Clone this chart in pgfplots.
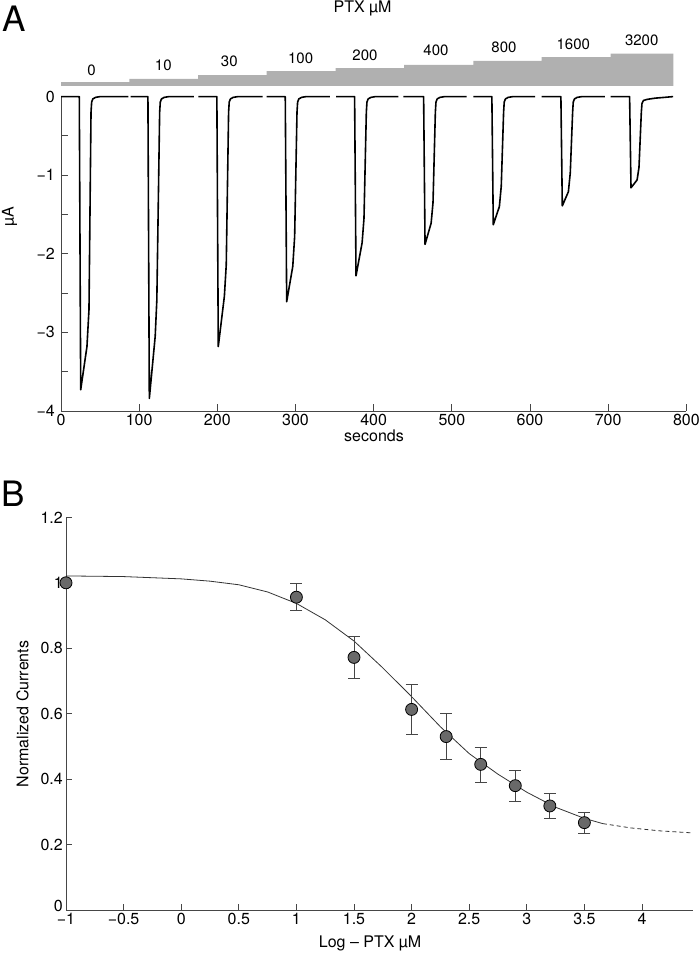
\documentclass[border=0pt]{standalone}
\usepackage{fontspec}
\setmainfont{TeX Gyre Heros}
\usepackage{pgfplots}
\pgfplotsset{compat=1.18}
\definecolor{barfill}{RGB}{176,176,176}
\definecolor{mk}{RGB}{105,105,105}
\definecolor{axc}{RGB}{70,70,70}
\newcommand{\tfont}{\fontsize{16}{18}\selectfont}
\newcommand{\lfont}{\fontsize{16}{18}\selectfont}
\begin{document}
\begin{tikzpicture}
\path[use as bounding box] (0pt,0pt) rectangle (700pt,954pt);
% ---------------- Panel A ----------------
\begin{axis}[at={(61pt,543pt)}, anchor=south west,
  x=0.7817pt, y=78.6pt,
  xmin=0, xmax=800, ymin=-4, ymax=0,
  enlargelimits=false, clip=false,
  axis lines=left, axis line style={-, axc, line width=0.9pt},
  tick align=inside, major tick length=6.5pt,
  tick style={axc, line width=0.9pt},
  xtick={0,100,200,300,400,500,600,700,800},
  xticklabels={0,100,200,300,400,500,600,700,800},
  ytick={-4,-3.5,-3,-2.5,-2,-1.5,-1,-0.5,0},
  yticklabels={−4,,−3,,−2,,−1,,0},
  ticklabel style={font=\tfont},
  xticklabel style={anchor=north, inner sep=0pt, yshift=-2.5pt},
  yticklabel style={anchor=east, inner sep=0pt, xshift=-6pt},
]
% concentration staircase
\addplot[fill=barfill, draw=none] coordinates {
 (0,0.136) (0,0.183) (87.4,0.183) (87.4,0.225) (175.3,0.225) (175.3,0.272)
 (263.1,0.272) (263.1,0.323) (351.4,0.323) (351.4,0.361) (438.8,0.361) (438.8,0.403)
 (527.4,0.403) (527.4,0.454) (614.9,0.454) (614.9,0.501) (703.2,0.501) (703.2,0.547)
 (783.3,0.547) (783.3,0.136)};
\node[font=\fontsize{15}{17}\selectfont, inner sep=0pt] at (axis cs:39.2,0.34) {0};
\node[font=\fontsize{15}{17}\selectfont, inner sep=0pt] at (axis cs:130.9,0.403) {10};
\node[font=\fontsize{15}{17}\selectfont, inner sep=0pt] at (axis cs:215.3,0.445) {30};
\node[font=\fontsize{15}{17}\selectfont, inner sep=0pt] at (axis cs:306.6,0.489) {100};
\node[font=\fontsize{15}{17}\selectfont, inner sep=0pt] at (axis cs:388.9,0.531) {200};
\node[font=\fontsize{15}{17}\selectfont, inner sep=0pt] at (axis cs:479.7,0.585) {400};
\node[font=\fontsize{15}{17}\selectfont, inner sep=0pt] at (axis cs:566.7,0.623) {800};
\node[font=\fontsize{15}{17}\selectfont, inner sep=0pt] at (axis cs:655.4,0.670) {1600};
\node[font=\fontsize{15}{17}\selectfont, inner sep=0pt] at (axis cs:742.9,0.712) {3200};
% current trace
\pgfplotsset{trace/.style={black, line width=1.6pt, no markers, line join=round}}
\addplot[trace] coordinates {(0,0) (23.4,0) (25.2,-3.73) (33.2,-3.18) (35.8,-2.71) (38.4,-0.2) (39.2,-0.07) (40.7,-0.03) (44.2,-0.01) (50.2,0) (86.1,0)};
\addplot[trace] coordinates {(89.2,0) (111.2,0) (113,-3.84) (120.5,-3.05) (122.6,-2.59) (126.2,-0.2) (127.0,-0.07) (128.5,-0.03) (132,-0.01) (138,0) (170.1,0)};
\addplot[trace] coordinates {(175.6,0) (199.4,0) (201.2,-3.18) (209,-2.54) (211.4,-2.14) (214.4,-0.2) (215.2,-0.07) (216.7,-0.03) (220.2,-0.01) (226.2,0) (258,0)};
\addplot[trace] coordinates {(263.2,0) (286.9,0) (288.7,-2.61) (296.5,-2.16) (298.9,-1.78) (301.9,-0.2) (302.7,-0.07) (304.2,-0.03) (307.7,-0.01) (313.7,0) (344.1,0)};
\addplot[trace] coordinates {(351.8,0) (375.6,0) (377.4,-2.28) (385.2,-1.86) (387.6,-1.55) (390.6,-0.2) (391.4,-0.07) (392.9,-0.03) (396.4,-0.01) (402.4,0) (431.5,0)};
\addplot[trace] coordinates {(437.9,0) (463.9,0) (465.7,-1.88) (473.5,-1.61) (475.9,-1.35) (478.9,-0.2) (479.7,-0.07) (481.2,-0.03) (484.7,-0.01) (490.7,0) (519,0)};
\addplot[trace] coordinates {(527.4,0) (551.2,0) (553,-1.63) (560.8,-1.40) (563.2,-1.14) (566.2,-0.2) (567,-0.07) (568.5,-0.03) (572,-0.01) (578,0) (606.4,0)};
\addplot[trace] coordinates {(615,0) (639.5,0) (641.3,-1.39) (649.1,-1.21) (651.5,-0.97) (654.5,-0.2) (655.3,-0.07) (656.8,-0.03) (660.3,-0.01) (666.3,0) (695.9,0)};
\addplot[trace] coordinates {(703.2,0) (727.4,0) (729.2,-1.16) (737,-1.06) (739.4,-0.90) (742.4,-0.2) (743.2,-0.09) (745,-0.05) (750,-0.035) (760,-0.02) (772,-0.01) (783,0)};
\end{axis}
% ---------------- Panel B ----------------
\begin{axis}[at={(66pt,44pt)}, anchor=south west,
  x=115.2pt, y=327.2pt,
  xmin=-1, xmax=4.44, ymin=0, ymax=1.2,
  enlargelimits=false, clip=false,
  axis lines=left, axis line style={-, axc, line width=0.9pt},
  tick align=inside, major tick length=6pt,
  tick style={axc, line width=0.9pt},
  xtick={-1,-0.5,0,0.5,1,1.5,2,2.5,3,3.5,4},
  xticklabels={−1,−0.5,0,0.5,1,1.5,2,2.5,3,3.5,4},
  ytick={0,0.2,0.4,0.6,0.8,1,1.2},
  yticklabels={\raisebox{-1.2pt}[0pt][0pt]{0},0.2,0.4,0.6,0.8,1,1.2},
  ticklabel style={font=\tfont},
  xticklabel style={anchor=north, inner sep=0pt, yshift=-2.5pt},
  yticklabel style={anchor=east, inner sep=0pt, xshift=-3pt},
]
\addplot[no markers, line width=0.8pt, black!80] coordinates {
 (-1,1.021) (-0.5,1.019) (0,1.012) (0.25,1.005) (0.5,0.994) (0.75,0.972) (1,0.937)
 (1.25,0.887) (1.5,0.822) (1.75,0.740) (2,0.652) (2.25,0.560) (2.5,0.478) (2.75,0.415)
 (3,0.360) (3.25,0.314) (3.5,0.280) (3.66,0.264)};
\addplot[no markers, line width=0.8pt, black!80, dash pattern=on 4pt off 3pt] coordinates {
 (3.66,0.264) (3.9,0.251) (4.15,0.242) (4.42,0.236)};
\addplot[only marks, mark=*, mark size=6pt, mark options={fill=mk, draw=black, line width=0.8pt}] coordinates {(-1,1.0)};
\addplot[only marks, mark=*, mark size=6pt, mark options={fill=mk, draw=black, line width=0.8pt},
  error bars/.cd, y dir=both, y explicit,
  error bar style={line width=1pt, axc},
  error mark options={rotate=90, line width=1pt, axc, mark size=6pt}]
 coordinates {
 (1,0.956) += (0,0.041) -= (0,0.041)
 (1.5,0.772) += (0,0.063) -= (0,0.065)
 (2,0.613) += (0,0.075) -= (0,0.077)
 (2.3,0.530) += (0,0.070) -= (0,0.071)
 (2.6,0.445) += (0,0.052) -= (0,0.055)
 (2.9,0.380) += (0,0.045) -= (0,0.047)
 (3.2,0.318) += (0,0.039) -= (0,0.039)
 (3.5,0.267) += (0,0.030) -= (0,0.033)};
\end{axis}
% ---------------- Text ----------------
\node[font=\fontsize{35}{40}\selectfont, anchor=base west, inner sep=0pt] at (2pt,922.3pt) {A};
\node[font=\fontsize{35}{40}\selectfont, anchor=base west, inner sep=0pt] at (1pt,447.3pt) {B};
\node[font=\tfont, anchor=base, inner sep=0pt] at (362.5pt,941pt) {PTX µM};
\node[font=\tfont, anchor=base, inner sep=0pt, rotate=90] at (13.5pt,737pt) {µA};
\node[font=\lfont, anchor=base, inner sep=0pt] at (374pt,512.3pt) {seconds};
\node[font=\lfont, anchor=base, inner sep=0pt, rotate=90] at (28.3pt,240pt) {Normalized Currents};
\node[font=\lfont, anchor=base, inner sep=0pt] at (370pt,6pt) {Log – PTX µM};
\end{tikzpicture}
\end{document}
